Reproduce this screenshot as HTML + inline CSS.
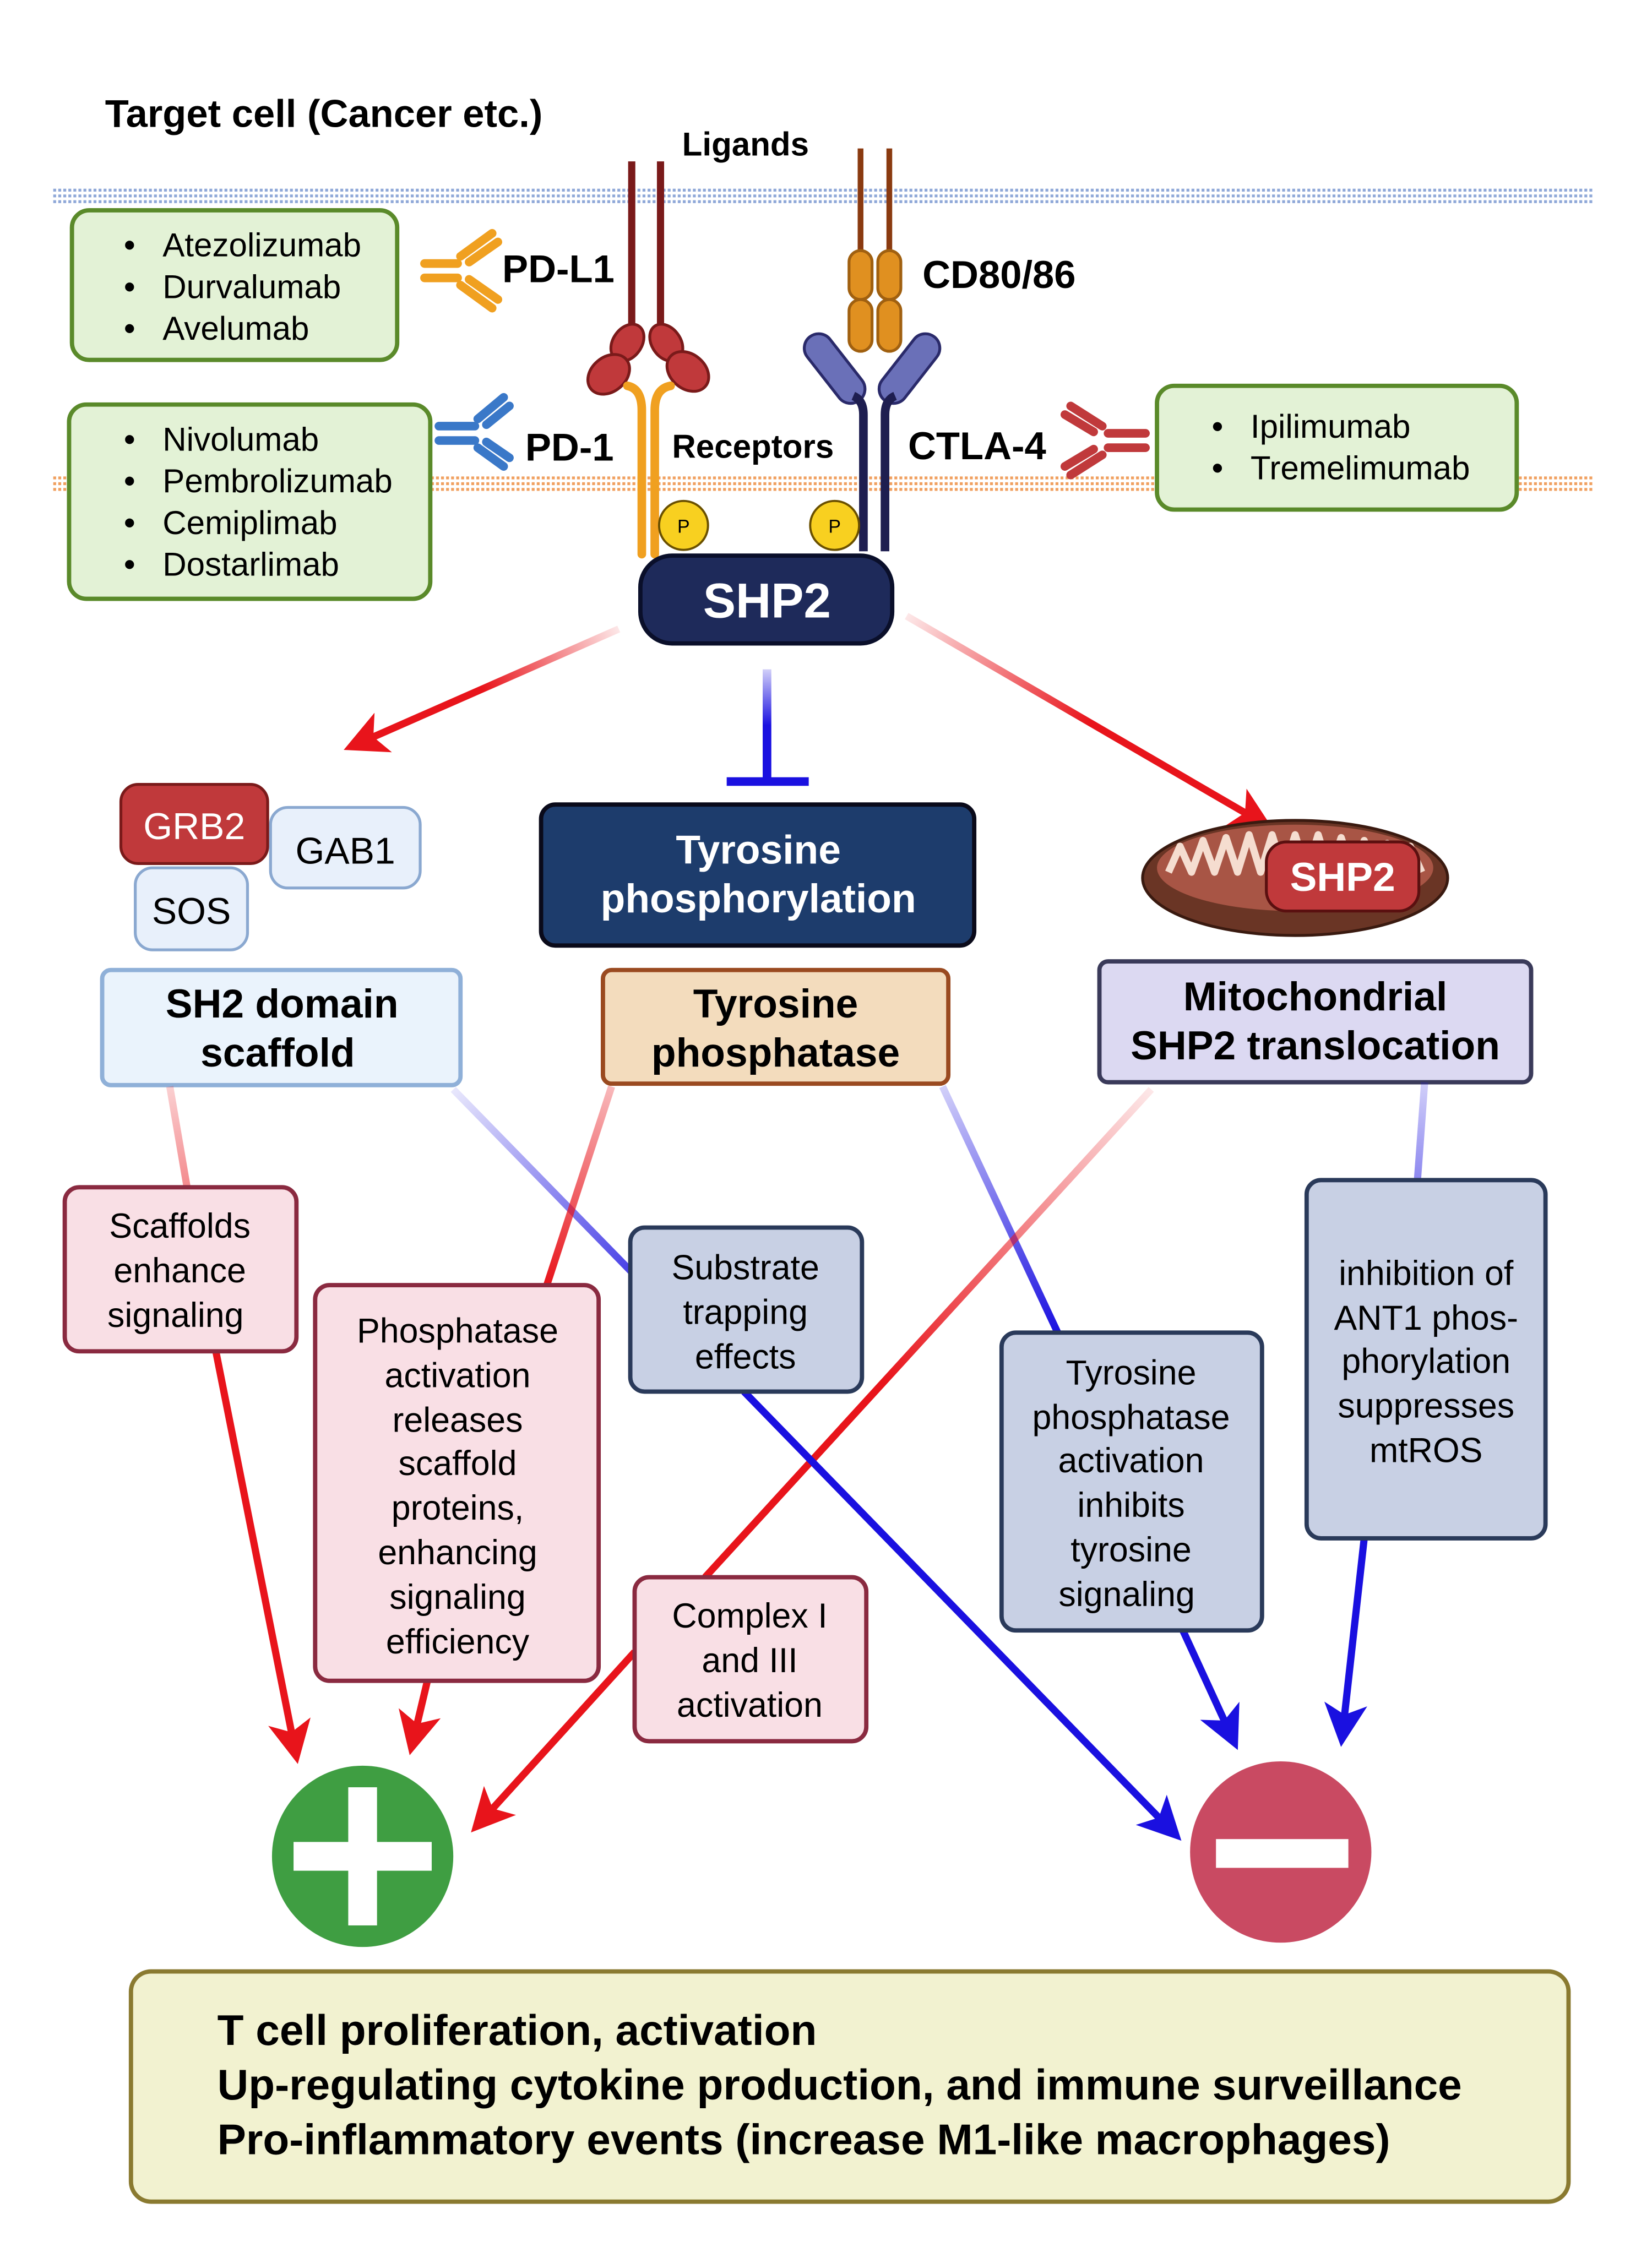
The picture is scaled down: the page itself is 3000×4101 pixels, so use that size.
<!DOCTYPE html>
<html><head><meta charset="utf-8"><style>
html,body{margin:0;padding:0;background:#fff}
svg{display:block}
text{font-family:"Liberation Sans",sans-serif}
</style></head><body>
<svg width="3000" height="4101" viewBox="0 0 1148 1569" xmlns="http://www.w3.org/2000/svg">
<defs>
<marker id="ar" markerWidth="6" markerHeight="6" refX="4" refY="3" orient="auto" markerUnits="strokeWidth"><path d="M0,0 L6,3 L0,6 L1.5,3z" fill="#e8141b"/></marker>
<marker id="ab" markerWidth="6" markerHeight="6" refX="4" refY="3" orient="auto" markerUnits="strokeWidth"><path d="M0,0 L6,3 L0,6 L1.5,3z" fill="#1a10e0"/></marker>
<linearGradient id="g1" x1="430" y1="437" x2="240" y2="520" gradientUnits="userSpaceOnUse"><stop offset="0" stop-color="#e8141b" stop-opacity="0.1"/><stop offset="0.5" stop-color="#e8141b"/></linearGradient>
<linearGradient id="g2" x1="630" y1="428" x2="885" y2="575" gradientUnits="userSpaceOnUse"><stop offset="0" stop-color="#e8141b" stop-opacity="0.1"/><stop offset="0.5" stop-color="#e8141b"/></linearGradient>
<linearGradient id="g3" x1="533" y1="465" x2="533" y2="543" gradientUnits="userSpaceOnUse"><stop offset="0" stop-color="#1a10e0" stop-opacity="0.2"/><stop offset="0.5" stop-color="#1a10e0"/></linearGradient>
<linearGradient id="g4" x1="315" y1="757" x2="440" y2="885" gradientUnits="userSpaceOnUse"><stop offset="0" stop-color="#1a10e0" stop-opacity="0.1"/><stop offset="1" stop-color="#1a10e0" stop-opacity="0.8"/></linearGradient>
<linearGradient id="g5" x1="425" y1="755" x2="380" y2="893" gradientUnits="userSpaceOnUse"><stop offset="0" stop-color="#e8141b" stop-opacity="0.3"/><stop offset="1" stop-color="#e8141b"/></linearGradient>
<linearGradient id="g6" x1="655" y1="755" x2="735" y2="926" gradientUnits="userSpaceOnUse"><stop offset="0" stop-color="#1a10e0" stop-opacity="0.2"/><stop offset="1" stop-color="#1a10e0"/></linearGradient>
<linearGradient id="g7" x1="800" y1="757" x2="490" y2="1096" gradientUnits="userSpaceOnUse"><stop offset="0" stop-color="#e8141b" stop-opacity="0.1"/><stop offset="0.6" stop-color="#e8141b"/></linearGradient>
<linearGradient id="g8" x1="118" y1="755" x2="130" y2="825" gradientUnits="userSpaceOnUse"><stop offset="0" stop-color="#e8141b" stop-opacity="0.2"/><stop offset="1" stop-color="#e8141b" stop-opacity="0.5"/></linearGradient>
<linearGradient id="g9" x1="990" y1="752" x2="985" y2="820" gradientUnits="userSpaceOnUse"><stop offset="0" stop-color="#1a10e0" stop-opacity="0.2"/><stop offset="1" stop-color="#1a10e0" stop-opacity="0.5"/></linearGradient>
</defs>

<g stroke="#8fa8d8" stroke-width="2" stroke-dasharray="2,1.5">
<line x1="37" y1="132" x2="1108" y2="132"/><line x1="37" y1="136" x2="1108" y2="136"/><line x1="37" y1="140" x2="1108" y2="140"/>
</g>
<g stroke="#f0a060" stroke-width="2" stroke-dasharray="2,1.5">
<line x1="37" y1="332" x2="1108" y2="332"/><line x1="37" y1="336" x2="1108" y2="336"/><line x1="37" y1="340" x2="1108" y2="340"/>
</g>

<text x="73" y="88" font-size="27" font-weight="bold">Target cell (Cancer etc.)</text>
<text x="474" y="108" font-size="23" font-weight="bold">Ligands</text>

<g fill="#e3f2d6" stroke="#5a8a2a" stroke-width="3">
<rect x="50" y="146" width="226" height="104" rx="12"/>
<rect x="48" y="281" width="251" height="135" rx="12"/>
<rect x="804" y="268" width="250" height="86" rx="12"/>
</g>
<g font-size="23">
<text x="86" y="178">•</text><text x="113" y="178">Atezolizumab</text>
<text x="86" y="207">•</text><text x="113" y="207">Durvalumab</text>
<text x="86" y="236">•</text><text x="113" y="236">Avelumab</text>
<text x="86" y="313">•</text><text x="113" y="313">Nivolumab</text>
<text x="86" y="342">•</text><text x="113" y="342">Pembrolizumab</text>
<text x="86" y="371">•</text><text x="113" y="371">Cemiplimab</text>
<text x="86" y="400">•</text><text x="113" y="400">Dostarlimab</text>
<text x="842" y="304">•</text><text x="869" y="304">Ipilimumab</text>
<text x="842" y="333">•</text><text x="869" y="333">Tremelimumab</text>
</g>

<g stroke="#f0a020" stroke-width="6" stroke-linecap="round">
<line x1="295" y1="183" x2="318" y2="183"/><line x1="295" y1="193" x2="318" y2="193"/>
<line x1="320" y1="178" x2="342" y2="162"/><line x1="326" y1="182" x2="346" y2="168"/>
<line x1="320" y1="198" x2="342" y2="214"/><line x1="326" y1="194" x2="346" y2="208"/>
</g>
<g stroke="#3a78c8" stroke-width="6" stroke-linecap="round">
<line x1="305" y1="296" x2="330" y2="296"/><line x1="305" y1="306" x2="330" y2="306"/>
<line x1="332" y1="291" x2="350" y2="276"/><line x1="338" y1="295" x2="354" y2="282"/>
<line x1="332" y1="311" x2="350" y2="324"/><line x1="338" y1="307" x2="354" y2="318"/>
</g>
<g stroke="#c0393b" stroke-width="6" stroke-linecap="round">
<line x1="770" y1="301" x2="796" y2="301"/><line x1="770" y1="311" x2="796" y2="311"/>
<line x1="766" y1="296" x2="744" y2="282"/><line x1="760" y1="300" x2="740" y2="288"/>
<line x1="766" y1="316" x2="744" y2="330"/><line x1="760" y1="312" x2="740" y2="324"/>
</g>

<g font-size="27" font-weight="bold">
<text x="349" y="196">PD-L1</text><text x="641" y="200">CD80/86</text>
<text x="365" y="320">PD-1</text><text x="631" y="319">CTLA-4</text>
</g>
<text x="467" y="318" font-size="23" font-weight="bold">Receptors</text>

<g stroke="#7a1a1a" stroke-width="5"><line x1="439" y1="112" x2="439" y2="232"/><line x1="459" y1="112" x2="459" y2="232"/></g>
<ellipse cx="436" cy="238" rx="10" ry="14" fill="#c0393b" stroke="#7a1a1a" stroke-width="2" transform="rotate(35 436 238)"/>
<ellipse cx="463" cy="238" rx="10" ry="14" fill="#c0393b" stroke="#7a1a1a" stroke-width="2" transform="rotate(-35 463 238)"/>
<ellipse cx="423" cy="260" rx="12" ry="16" fill="#c0393b" stroke="#7a1a1a" stroke-width="2" transform="rotate(50 423 260)"/>
<ellipse cx="478" cy="258" rx="12" ry="16" fill="#c0393b" stroke="#7a1a1a" stroke-width="2" transform="rotate(-50 478 258)"/>
<g stroke="#f0a020" stroke-width="6" fill="none" stroke-linecap="round">
<path d="M446,385 V285 Q446,270 436,268"/><path d="M455,385 V285 Q455,270 466,268"/>
</g>
<g stroke="#8a3a10" stroke-width="4"><line x1="598" y1="103" x2="598" y2="180"/><line x1="618" y1="103" x2="618" y2="180"/></g>
<g fill="#e09020" stroke="#a06010" stroke-width="2">
<rect x="590" y="174" width="16" height="34" rx="8"/><rect x="610" y="174" width="16" height="34" rx="8"/>
<rect x="590" y="208" width="16" height="36" rx="8"/><rect x="610" y="208" width="16" height="36" rx="8"/>
</g>
<g fill="#6a70b8" stroke="#2a2a6a" stroke-width="2">
<rect x="570" y="228" width="20" height="56" rx="10" transform="rotate(-38 580 256)"/>
<rect x="622" y="228" width="20" height="56" rx="10" transform="rotate(38 632 256)"/>
</g>
<g stroke="#1e1e50" stroke-width="6" fill="none"><path d="M600,383 V288 Q600,278 593,275"/><path d="M615,383 V288 Q615,278 622,275"/></g>
<g fill="#f8d020" stroke="#6a5000" stroke-width="1.5"><circle cx="475" cy="365" r="17"/><circle cx="580" cy="365" r="17"/></g>
<text x="475" y="370" font-size="13" text-anchor="middle">P</text><text x="580" y="370" font-size="13" text-anchor="middle">P</text>

<rect x="445" y="386" width="175" height="61" rx="22" fill="#1e2a5a" stroke="#0a0f2a" stroke-width="3"/>
<text x="533" y="429" font-size="34" font-weight="bold" fill="#fff" text-anchor="middle">SHP2</text>

<line x1="430" y1="437" x2="248" y2="517" stroke="url(#g1)" stroke-width="5" marker-end="url(#ar)"/>
<line x1="630" y1="428" x2="876" y2="571" stroke="url(#g2)" stroke-width="5" marker-end="url(#ar)"/>
<line x1="533" y1="465" x2="533" y2="543" stroke="url(#g3)" stroke-width="6"/>
<line x1="505" y1="543" x2="562" y2="543" stroke="#1a10e0" stroke-width="6"/>

<rect x="94" y="603" width="78" height="57" rx="12" fill="#e8f0fb" stroke="#8aa8d0" stroke-width="2"/>
<text x="133" y="642" font-size="26" text-anchor="middle">SOS</text>
<rect x="188" y="561" width="104" height="56" rx="12" fill="#e8f0fb" stroke="#8aa8d0" stroke-width="2"/>
<text x="240" y="600" font-size="26" text-anchor="middle">GAB1</text>
<rect x="84" y="545" width="102" height="55" rx="12" fill="#c0393b" stroke="#7a1a1a" stroke-width="2"/>
<text x="135" y="583" font-size="26" fill="#fff" text-anchor="middle">GRB2</text>

<ellipse cx="900" cy="610" rx="106" ry="40" fill="#6a3525" stroke="#3a1a10" stroke-width="2"/>
<ellipse cx="900" cy="603" rx="96" ry="30" fill="#a85545"/>
<path d="M812,606 l8,-18 l8,18 l8,-22 l8,22 l8,-24 l8,24 l8,-26 l8,26 l8,-26 l8,26 l8,-26 l8,26 l8,-26 l8,26 l8,-24 l8,24 l8,-22 l8,22 l8,-20 l8,20 l8,-18 l8,18" fill="none" stroke="#f5ddd0" stroke-width="5" stroke-linejoin="round"/>
<rect x="880" y="585" width="106" height="48" rx="14" fill="#c0393b" stroke="#5a1010" stroke-width="2"/>
<text x="933" y="619" font-size="28" font-weight="bold" fill="#fff" text-anchor="middle">SHP2</text>

<rect x="376" y="559" width="301" height="98" rx="10" fill="#1d3c6c" stroke="#0a0a1a" stroke-width="3"/>
<text x="527" y="600" font-size="28" font-weight="bold" fill="#fff" text-anchor="middle">Tyrosine</text>
<text x="527" y="634" font-size="28" font-weight="bold" fill="#fff" text-anchor="middle">phosphorylation</text>
<rect x="71" y="674" width="249" height="80" rx="6" fill="#eaf3fc" stroke="#8fb0d8" stroke-width="3"/>
<text x="196" y="707" font-size="28" font-weight="bold" text-anchor="middle">SH2 domain</text>
<text x="193" y="741" font-size="28" font-weight="bold" text-anchor="middle">scaffold</text>
<rect x="419" y="674" width="240" height="79" rx="6" fill="#f3dcbd" stroke="#9a4a20" stroke-width="3"/>
<text x="539" y="707" font-size="28" font-weight="bold" text-anchor="middle">Tyrosine</text>
<text x="539" y="741" font-size="28" font-weight="bold" text-anchor="middle">phosphatase</text>
<rect x="764" y="668" width="300" height="84" rx="6" fill="#dcd9f2" stroke="#3a3a5a" stroke-width="3"/>
<text x="914" y="702" font-size="28" font-weight="bold" text-anchor="middle">Mitochondrial</text>
<text x="914" y="736" font-size="28" font-weight="bold" text-anchor="middle">SHP2 translocation</text>

<line x1="118" y1="755" x2="130" y2="825" stroke="url(#g8)" stroke-width="5"/>
<line x1="315" y1="757" x2="440" y2="885" stroke="url(#g4)" stroke-width="5"/>
<line x1="425" y1="755" x2="380" y2="893" stroke="url(#g5)" stroke-width="5"/>
<line x1="655" y1="755" x2="735" y2="926" stroke="url(#g6)" stroke-width="5"/>
<line x1="800" y1="757" x2="490" y2="1096" stroke="url(#g7)" stroke-width="5"/>
<line x1="990" y1="752" x2="985" y2="820" stroke="url(#g9)" stroke-width="5"/>
<line x1="441" y1="1148" x2="334" y2="1266" stroke="#e8141b" stroke-width="5" marker-end="url(#ar)"/>
<line x1="150" y1="939" x2="205" y2="1216" stroke="#e8141b" stroke-width="5" marker-end="url(#ar)"/>
<line x1="297" y1="1168" x2="287" y2="1210" stroke="#e8141b" stroke-width="5" marker-end="url(#ar)"/>
<line x1="517" y1="967" x2="814" y2="1272" stroke="#1a10e0" stroke-width="5" marker-end="url(#ab)"/>
<line x1="822" y1="1133" x2="856" y2="1207" stroke="#1a10e0" stroke-width="5" marker-end="url(#ab)"/>
<line x1="948" y1="1069" x2="933" y2="1204" stroke="#1a10e0" stroke-width="5" marker-end="url(#ab)"/>

<g fill="#f9dfe5" stroke="#8a2a40" stroke-width="3">
<rect x="45" y="825" width="161" height="114" rx="10"/>
<rect x="219" y="893" width="197" height="275" rx="10"/>
<rect x="441" y="1096" width="161" height="114" rx="10"/>
</g>
<g font-size="24" text-anchor="middle">
<text x="125" y="860">Scaffolds</text><text x="125" y="891">enhance</text><text x="122" y="922">signaling</text>
<text x="318" y="933">Phosphatase</text><text x="318" y="964">activation</text><text x="318" y="995">releases</text><text x="318" y="1025">scaffold</text><text x="318" y="1056">proteins,</text><text x="318" y="1087">enhancing</text><text x="318" y="1118">signaling</text><text x="318" y="1149">efficiency</text>
<text x="521" y="1131">Complex I</text><text x="521" y="1162">and III</text><text x="521" y="1193">activation</text>
</g>
<g fill="#c8d0e4" stroke="#2a3a5a" stroke-width="3">
<rect x="438" y="853" width="161" height="114" rx="10"/>
<rect x="696" y="926" width="181" height="207" rx="10"/>
<rect x="908" y="820" width="166" height="249" rx="10"/>
</g>
<g font-size="24" text-anchor="middle">
<text x="518" y="889">Substrate</text><text x="518" y="920">trapping</text><text x="518" y="951">effects</text>
<text x="786" y="962">Tyrosine</text><text x="786" y="993">phosphatase</text><text x="786" y="1023">activation</text><text x="786" y="1054">inhibits</text><text x="786" y="1085">tyrosine</text><text x="783" y="1116">signaling</text>
<text x="991" y="893">inhibition of</text><text x="991" y="924">ANT1 phos-</text><text x="991" y="954">phorylation</text><text x="991" y="985">suppresses</text><text x="991" y="1016">mtROS</text>
</g>

<circle cx="252" cy="1290" r="63" fill="#3f9e42"/>
<rect x="242" y="1242" width="20" height="96" fill="#fff"/><rect x="204" y="1280" width="96" height="20" fill="#fff"/>
<circle cx="890" cy="1287" r="63" fill="#c94a62"/>
<rect x="845" y="1278" width="92" height="20" fill="#fff"/>

<rect x="91" y="1370" width="999" height="160" rx="14" fill="#f2f2d0" stroke="#8a7a30" stroke-width="3"/>
<g font-size="30" font-weight="bold">
<text x="151" y="1421">T cell proliferation, activation</text>
<text x="151" y="1459">Up-regulating cytokine production, and immune surveillance</text>
<text x="151" y="1497">Pro-inflammatory events (increase M1-like macrophages)</text>
</g>
</svg>
</body></html>
